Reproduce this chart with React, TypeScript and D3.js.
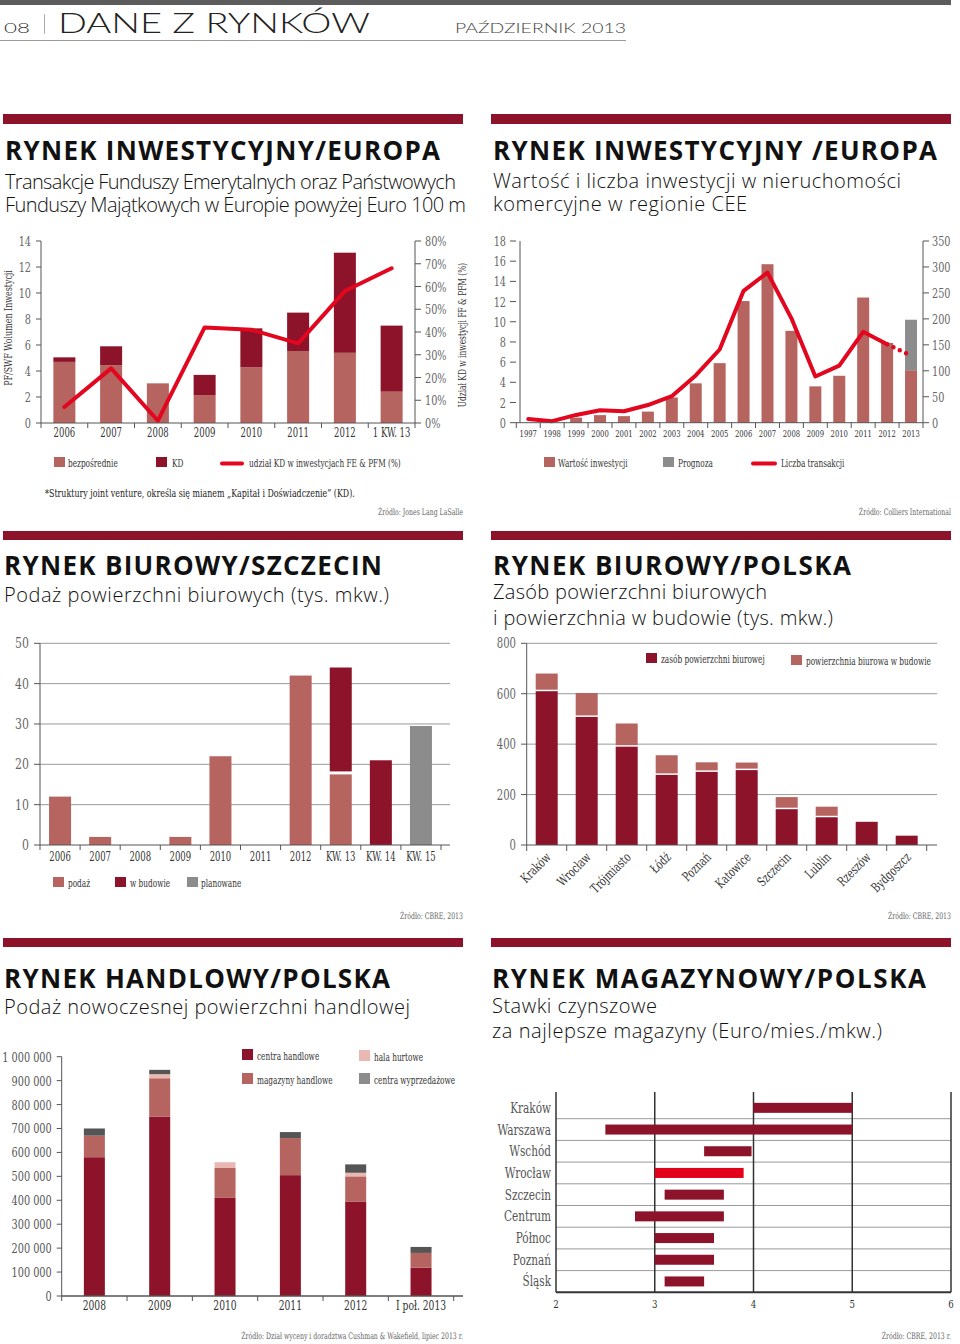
import * as d3 from 'd3';

// Rynek inwestycyjny / Europa – transakcje PF/SWF (mld euro, % KD)
const pfPeriods = ['2006', '2007', '2008', '2009', '2010', '2011', '2012', '1 KW. 13'];
const pfDirect = [4.7, 4.45, 3.05, 2.15, 4.28, 5.54, 5.4, 2.41];
const pfKD = [0.35, 1.45, 0, 1.55, 3.0, 2.95, 7.7, 5.08];
const pfKDShare = [7, 24, 1, 42, 41, 35, 58, 68];

// Rynek inwestycyjny CEE
const ceeYears = ['1997', '1998', '1999', '2000', '2001', '2002', '2003', '2004', '2005', '2006', '2007', '2008', '2009', '2010', '2011', '2012', '2013'];
const ceeValue = [0, 0, 0.5, 0.75, 0.65, 1.1, 2.5, 3.9, 5.9, 12.05, 15.7, 9.1, 3.6, 4.65, 12.4, 7.9, 5.2];
const ceeForecast = [0, 0, 0, 0, 0, 0, 0, 0, 0, 0, 0, 0, 0, 0, 0, 0, 5.0];
const ceeDeals = [7, 3, 15, 24, 22, 34, 51, 91, 141, 254, 289, 201, 89, 110, 175, 151, 129];

// Rynek biurowy / Szczecin
const szcPeriods = ['2006', '2007', '2008', '2009', '2010', '2011', '2012', 'KW. 13', 'KW. 14', 'KW. 15'];
const szcSupply = [12, 2, 0, 2, 22, 0, 42, 17.5, 0, 0];
const szcBuilding = [0, 0, 0, 0, 0, 0, 0, 26.5, 21, 0];
const szcPlanned = [0, 0, 0, 0, 0, 0, 0, 0, 0, 29.5];

// Rynek biurowy / Polska
const cities = ['Kraków', 'Wrocław', 'Trójmiasto', 'Łódź', 'Poznań', 'Katowice', 'Szczecin', 'Lublin', 'Rzeszów', 'Bydgoszcz'];
const officeStock = [610, 508, 390, 278, 290, 297, 142, 110, 92, 37];
const officeBuilding = [70, 95, 92, 78, 38, 30, 48, 42, 0, 0];

// Rynek handlowy / Polska
const retailPeriods = ['2008', '2009', '2010', '2011', '2012', 'I poł. 2013'];
const shoppingCentres = [580000, 750000, 410000, 505000, 395000, 118000];
const retailWarehouses = [90000, 160000, 125000, 155000, 105000, 62000];
const wholesaleHalls = [0, 17000, 24000, 0, 15000, 0];
const outletCentres = [30000, 18000, 0, 25000, 35000, 25000];

// Rynek magazynowy / Polska
const regions = ['Kraków', 'Warszawa', 'Wschód', 'Wrocław', 'Szczecin', 'Centrum', 'Północ', 'Poznań', 'Śląsk'];
const rentMin = [4.0, 2.5, 3.5, 3.0, 3.1, 2.8, 3.0, 3.0, 3.1];
const rentMax = [5.0, 5.0, 3.98, 3.9, 3.7, 3.7, 3.6, 3.6, 3.5];

const CRIMSON = '#8c1329';
const ROSE = '#b6645f';
const RED = '#e3061f';
const GREY = '#8c8c8c';
const PINK = '#e9b8b3';
const DARKGREY = '#555555';
const AXIS = '#555';
const GRID = '#9a9a9a';

const SLAB = "'DejaVu Serif', 'Liberation Serif', serif";
const SANS = "'Open Sans', 'Noto Sans', sans-serif";

const fmtSpace = d3.formatLocale({ decimal: ',', thousands: '\u00a0', grouping: [3], currency: ['', ''] }).format(',d');

// condensed slab text: DejaVu Serif squeezed horizontally
function CT({ x, y, size = 12, anchor = 'start', fill = '#333', sx = 0.72, rotate = 0, children }) {
  return (
    <text transform={`translate(${x},${y}) rotate(${rotate}) scale(${sx},1)`} textAnchor={anchor} fontFamily={SLAB} fontSize={size} fill={fill}>
      {children}
    </text>
  );
}

function Heading({ barX, barY, barH, x, title, titleW, titleY, lines }) {
  return (
    <g>
      <rect x={barX} y={barY} width={460} height={barH} fill={CRIMSON} />
      <text x={x} y={titleY} fontFamily={SANS} fontWeight={700} fontSize={26} fill="#111" textLength={titleW} lengthAdjust="spacing">
        {title}
      </text>
      {lines.map(([t, yy, w]) => (
        <text key={t} x={x} y={yy} fontFamily={SANS} fontWeight={300} fontSize={20} fill="#111" textLength={w} lengthAdjust="spacing">
          {t}
        </text>
      ))}
    </g>
  );
}

function Swatch({ x, y, color, label, tx, w = 11, h = 10 }) {
  return (
    <g>
      <rect x={x} y={y} width={w} height={h} fill={color} />
      <CT x={tx} y={y + h} size={10.5} sx={0.7}>{label}</CT>
    </g>
  );
}

function Source({ x, y, text }) {
  return <CT x={x} y={y} size={9} anchor="end" fill="#666" sx={0.69}>{text}</CT>;
}

function PageHeader() {
  return (
    <g>
      <rect x={0} y={0} width={951} height={5} fill="#5c5c5c" />
      <text x={4} y={33} fontFamily="Lato, sans-serif" fontWeight={300} fontSize={13} fill="#333" textLength={26} lengthAdjust="spacingAndGlyphs">08</text>
      <line x1={44.5} x2={44.5} y1={14} y2={34} stroke="#aaa" />
      <text x={58} y={33} fontFamily="Lato, sans-serif" fontWeight={300} fontSize={27} fill="#222" textLength={312} lengthAdjust="spacingAndGlyphs">DANE Z RYNKÓW</text>
      <text x={455} y={33} fontFamily="Lato, sans-serif" fontWeight={300} fontSize={13} fill="#444" textLength={171} lengthAdjust="spacingAndGlyphs">PAŹDZIERNIK 2013</text>
      <line x1={0} x2={626} y1={40.5} y2={40.5} stroke="#9a9a9a" />
    </g>
  );
}

function PfChart() {
  const x = d3.scaleBand().domain(pfPeriods).range([41, 415]);
  const yL = d3.scaleLinear().domain([0, 14]).range([423, 241]);
  const yR = d3.scaleLinear().domain([0, 80]).range([423, 241]);
  const bw = 22;
  const cx = (d) => x(d) + x.bandwidth() / 2;
  const line = d3.line().x((_, i) => cx(pfPeriods[i])).y((v) => yR(v));
  const bounds = pfPeriods.map((d) => x(d)).concat([415]);
  return (
    <g>
      {pfPeriods.map((d, i) => (
        <g key={d}>
          <rect x={cx(d) - bw / 2} y={yL(pfDirect[i])} width={bw} height={yL(0) - yL(pfDirect[i])} fill={ROSE} />
          <rect x={cx(d) - bw / 2} y={yL(pfDirect[i] + pfKD[i])} width={bw} height={yL(pfDirect[i]) - yL(pfDirect[i] + pfKD[i])} fill={CRIMSON} />
        </g>
      ))}
      <path d={line(pfKDShare)} fill="none" stroke={RED} strokeWidth={4} strokeLinejoin="round" strokeLinecap="round" />
      <line x1={41} x2={41} y1={241} y2={423} stroke={AXIS} />
      <line x1={415} x2={415} y1={241} y2={423} stroke={AXIS} />
      <line x1={41} x2={415} y1={423} y2={423} stroke={AXIS} />
      {yL.ticks(7).map((t) => (
        <g key={t}>
          <line x1={36} x2={41} y1={yL(t)} y2={yL(t)} stroke={AXIS} />
          <CT x={31} y={yL(t) + 5} anchor="end" size={13.5} fill="#666">{t}</CT>
        </g>
      ))}
      {yR.ticks(8).map((t) => (
        <g key={t}>
          <line x1={415} x2={421} y1={yR(t)} y2={yR(t)} stroke={AXIS} />
          <CT x={425} y={yR(t) + 5} size={13.5} fill="#666">{t}%</CT>
        </g>
      ))}
      {bounds.map((b, i) => (
        <line key={i} x1={b} x2={b} y1={423} y2={428} stroke={AXIS} />
      ))}
      {pfPeriods.map((d) => (
        <CT key={d} x={cx(d)} y={437} anchor="middle" size={12.5} sx={0.68}>{d}</CT>
      ))}
      <CT x={12} y={328} rotate={-90} anchor="middle" size={11} sx={0.72}>PF/SWF Wolumen Inwestycji</CT>
      <CT x={466} y={335} rotate={-90} anchor="middle" size={11} sx={0.68}>Udział KD w inwestycji FF &amp; PFM (%)</CT>
      <Swatch x={54} y={457} color={ROSE} label="bezpośrednie" tx={68} />
      <Swatch x={156} y={457} color={CRIMSON} label="KD" tx={172} />
      <line x1={222} x2={242} y1={463.5} y2={463.5} stroke={RED} strokeWidth={4} strokeLinecap="round" />
      <CT x={249} y={467} size={10.5} sx={0.7}>udział KD w inwestycjach FE &amp; PFM (%)</CT>
      <CT x={45} y={497} size={11} sx={0.72} fill="#222">*Struktury joint venture, określa się mianem „Kapitał i Doświadczenie” (KD).</CT>
      <Source x={463} y={515} text="Źródło: Jones Lang LaSalle" />
    </g>
  );
}

function CeeChart() {
  const x = d3.scaleBand().domain(ceeYears).range([516.3, 923]);
  const yL = d3.scaleLinear().domain([0, 18]).range([422.7, 241]);
  const yR = d3.scaleLinear().domain([0, 350]).range([422.7, 241]);
  const bw = 12;
  const cx = (d) => x(d) + x.bandwidth() / 2;
  const line = d3.line().x((d) => cx(d[0])).y((d) => yR(d[1]));
  const pts = ceeYears.map((d, i) => [d, ceeDeals[i]]);
  const n = pts.length;
  const bounds = ceeYears.map((d) => x(d)).concat([923]);
  return (
    <g>
      {ceeYears.map((d, i) => (
        <g key={d}>
          <rect x={cx(d) - bw / 2} y={yL(ceeValue[i])} width={bw} height={yL(0) - yL(ceeValue[i])} fill={ROSE} />
          {ceeForecast[i] > 0 && (
            <rect x={cx(d) - bw / 2} y={yL(ceeValue[i] + ceeForecast[i])} width={bw} height={yL(ceeValue[i]) - yL(ceeValue[i] + ceeForecast[i])} fill={GREY} />
          )}
        </g>
      ))}
      <path d={line(pts.slice(0, n - 1))} fill="none" stroke={RED} strokeWidth={4} strokeLinejoin="round" strokeLinecap="round" />
      <path d={line(pts.slice(n - 2))} fill="none" stroke={RED} strokeWidth={4.5} strokeDasharray="0 7" strokeLinecap="round" />
      <line x1={520} x2={520} y1={241} y2={422.7} stroke={AXIS} />
      <line x1={923} x2={923} y1={241} y2={422.7} stroke={AXIS} />
      <line x1={516} x2={923} y1={422.7} y2={422.7} stroke={AXIS} />
      {yL.ticks(9).map((t) => (
        <g key={t}>
          <line x1={510} x2={516} y1={yL(t)} y2={yL(t)} stroke={AXIS} />
          <CT x={506} y={yL(t) + 5} anchor="end" size={13.5} fill="#666">{t}</CT>
        </g>
      ))}
      {yR.ticks(7).map((t) => (
        <g key={t}>
          <line x1={923} x2={929} y1={yR(t)} y2={yR(t)} stroke={AXIS} />
          <CT x={932} y={yR(t) + 5} size={13.5} fill="#666">{t}</CT>
        </g>
      ))}
      {bounds.map((b, i) => (
        <line key={i} x1={b} x2={b} y1={422.7} y2={428} stroke={AXIS} />
      ))}
      {ceeYears.map((d) => (
        <CT key={d} x={cx(d)} y={437} anchor="middle" size={9.5} sx={0.72}>{d}</CT>
      ))}
      <Swatch x={544} y={457} color={ROSE} label="Wartość inwestycji" tx={558} />
      <Swatch x={663} y={457} color={GREY} label="Prognoza" tx={678} />
      <line x1={753} x2={775} y1={463.5} y2={463.5} stroke={RED} strokeWidth={4} strokeLinecap="round" />
      <CT x={781} y={467} size={10.5} sx={0.7}>Liczba transakcji</CT>
      <Source x={951} y={515} text="Źródło: Colliers International" />
    </g>
  );
}

function SzczecinChart() {
  const x = d3.scaleBand().domain(szcPeriods).range([40, 441]);
  const y = d3.scaleLinear().domain([0, 50]).range([845, 643.3]);
  const bw = 22;
  const gap = 3;
  const cx = (d) => x(d) + x.bandwidth() / 2;
  const bounds = szcPeriods.map((d) => x(d)).concat([441]);
  return (
    <g>
      {y.ticks(5).filter((t) => t > 0).map((t) => (
        <line key={t} x1={40} x2={450} y1={y(t)} y2={y(t)} stroke={GRID} />
      ))}
      {szcPeriods.map((d, i) => {
        const s = szcSupply[i];
        const b = szcBuilding[i];
        const p = szcPlanned[i];
        return (
          <g key={d}>
            {s > 0 && <rect x={cx(d) - bw / 2} y={y(s)} width={bw} height={y(0) - y(s)} fill={ROSE} />}
            {b > 0 && <rect x={cx(d) - bw / 2} y={y(s + b)} width={bw} height={y(s) - y(s + b) - (s > 0 ? gap : 0)} fill={CRIMSON} />}
            {p > 0 && <rect x={cx(d) - bw / 2} y={y(s + b + p)} width={bw} height={y(s + b) - y(s + b + p)} fill={GREY} />}
          </g>
        );
      })}
      <line x1={40} x2={40} y1={643.3} y2={845} stroke={AXIS} />
      <line x1={40} x2={450} y1={845} y2={845} stroke={AXIS} />
      {y.ticks(5).map((t) => (
        <g key={t}>
          <line x1={34} x2={40} y1={y(t)} y2={y(t)} stroke={AXIS} />
          <CT x={29} y={y(t) + 5} anchor="end" size={14} fill="#666" sx={0.78}>{t}</CT>
        </g>
      ))}
      {bounds.map((b, i) => (
        <line key={i} x1={b} x2={b} y1={845} y2={850} stroke={AXIS} />
      ))}
      {szcPeriods.map((d) => (
        <CT key={d} x={cx(d)} y={861} anchor="middle" size={12.5} sx={0.68}>{d}</CT>
      ))}
      <Swatch x={53} y={877} color={ROSE} label="podaż" tx={68} />
      <Swatch x={115} y={877} color={CRIMSON} label="w budowie" tx={130} />
      <Swatch x={187} y={877} color={GREY} label="planowane" tx={201} />
      <Source x={463} y={919} text="Źródło: CBRE, 2013" />
    </g>
  );
}

function OfficePolandChart() {
  const x = d3.scaleBand().domain(cities).range([526.7, 926.7]);
  const y = d3.scaleLinear().domain([0, 800]).range([845, 643.3]);
  const bw = 22;
  const gap = 1.5;
  const cx = (d) => x(d) + x.bandwidth() / 2;
  const bounds = cities.map((d) => x(d)).concat([926.7]);
  return (
    <g>
      {y.ticks(4).filter((t) => t > 0).map((t) => (
        <line key={t} x1={526.7} x2={937} y1={y(t)} y2={y(t)} stroke={GRID} />
      ))}
      {cities.map((d, i) => {
        const s = officeStock[i];
        const b = officeBuilding[i];
        return (
          <g key={d}>
            <rect x={cx(d) - bw / 2} y={y(s)} width={bw} height={y(0) - y(s)} fill={CRIMSON} />
            {b > 0 && <rect x={cx(d) - bw / 2} y={y(s + b)} width={bw} height={y(s) - y(s + b) - gap} fill={ROSE} />}
          </g>
        );
      })}
      <line x1={526.7} x2={526.7} y1={643.3} y2={845} stroke={AXIS} />
      <line x1={526.7} x2={937} y1={845} y2={845} stroke={AXIS} />
      {y.ticks(4).map((t) => (
        <g key={t}>
          <line x1={521} x2={526.7} y1={y(t)} y2={y(t)} stroke={AXIS} />
          <CT x={516} y={y(t) + 5} anchor="end" size={14} fill="#666" sx={0.72}>{t}</CT>
        </g>
      ))}
      {bounds.map((b, i) => (
        <line key={i} x1={b} x2={b} y1={845} y2={851} stroke={AXIS} />
      ))}
      {cities.map((d) => (
        <CT key={d} x={cx(d) + 5} y={858} rotate={-45} anchor="end" size={13} sx={0.72}>{d}</CT>
      ))}
      <Swatch x={646} y={653} color={CRIMSON} label="zasób powierzchni biurowej" tx={661} />
      <Swatch x={791} y={655} color={ROSE} label="powierzchnia biurowa w budowie" tx={806} />
      <Source x={951} y={919} text="Źródło: CBRE, 2013" />
    </g>
  );
}

function RetailChart() {
  const x = d3.scaleBand().domain(retailPeriods).range([61.7, 453.7]);
  const y = d3.scaleLinear().domain([0, 1000000]).range([1296, 1056.7]);
  const bw = 21;
  const cx = (d) => x(d) + x.bandwidth() / 2;
  const series = [
    [shoppingCentres, CRIMSON],
    [retailWarehouses, ROSE],
    [wholesaleHalls, PINK],
    [outletCentres, DARKGREY],
  ];
  const bounds = retailPeriods.map((d) => x(d)).concat([453.7]);
  return (
    <g>
      {retailPeriods.map((d, i) => {
        let base = 0;
        return (
          <g key={d}>
            {series.map(([vals, col], k) => {
              const v = vals[i];
              const y0 = base;
              base += v;
              if (v <= 0) return null;
              return <rect key={k} x={cx(d) - bw / 2} y={y(y0 + v)} width={bw} height={y(y0) - y(y0 + v)} fill={col} />;
            })}
          </g>
        );
      })}
      <line x1={61.7} x2={61.7} y1={1056.7} y2={1296} stroke={AXIS} />
      <line x1={61.7} x2={463} y1={1296} y2={1296} stroke={AXIS} strokeWidth={1.5} />
      {y.ticks(10).map((t) => (
        <g key={t}>
          <line x1={56.7} x2={61.7} y1={y(t)} y2={y(t)} stroke={AXIS} />
          <CT x={51.7} y={y(t) + 5} anchor="end" size={13.5} fill="#555" sx={0.72}>{fmtSpace(t)}</CT>
        </g>
      ))}
      {bounds.map((b, i) => (
        <line key={i} x1={b} x2={b} y1={1296} y2={1301} stroke={AXIS} />
      ))}
      {retailPeriods.map((d) => (
        <CT key={d} x={cx(d)} y={1310} anchor="middle" size={13.5} sx={0.68}>{d}</CT>
      ))}
      <Swatch x={242} y={1049} color={CRIMSON} label="centra handlowe" tx={257} w={11} h={11} />
      <Swatch x={359} y={1050} color={PINK} label="hala hurtowe" tx={374} w={11} h={11} />
      <Swatch x={242} y={1073} color={ROSE} label="magazyny handlowe" tx={257} w={11} h={11} />
      <Swatch x={359} y={1073} color={GREY} label="centra wyprzedażowe" tx={374} w={11} h={11} />
      <Source x={463} y={1339} text="Źródło: Dział wyceny i doradztwa Cushman & Wakefield, lipiec 2013 r." />
    </g>
  );
}

function WarehouseChart() {
  const x = d3.scaleLinear().domain([2, 6]).range([556, 951]);
  const y = d3.scaleBand().domain(regions).range([1097, 1292.3]);
  const bh = 10;
  const cy = (d) => y(d) + y.bandwidth() / 2;
  return (
    <g>
      {regions.slice(1).map((d) => (
        <line key={d} x1={556} x2={951} y1={y(d)} y2={y(d)} stroke={GRID} />
      ))}
      {x.ticks(4).map((t) => (
        <line key={t} x1={x(t)} x2={x(t)} y1={1092} y2={1292.3} stroke="#333" strokeWidth={1.5} />
      ))}
      {regions.map((d, i) => (
        <rect key={d} x={x(rentMin[i])} y={cy(d) - bh / 2} width={x(rentMax[i]) - x(rentMin[i])} height={bh} fill={d === 'Wrocław' ? '#e2001a' : CRIMSON} />
      ))}
      <line x1={556} x2={951} y1={1292.3} y2={1292.3} stroke="#333" strokeWidth={2} />
      {x.ticks(4).map((t) => (
        <CT key={t} x={x(t)} y={1308} anchor="middle" size={11.5} sx={0.75}>{t}</CT>
      ))}
      {regions.map((d) => (
        <CT key={d} x={551} y={cy(d) + 5} anchor="end" size={14} fill="#555" sx={0.75}>{d}</CT>
      ))}
      <Source x={951} y={1339} text="Źródło: CBRE, 2013 r." />
    </g>
  );
}

export default function App() {
  return (
    <svg width={960} height={1344} style={{ position: 'absolute', left: 0, top: 0, background: '#fff' }}>
      <rect width={960} height={1344} fill="#fff" />
      <PageHeader />
      <Heading barX={3} barY={114} barH={10} x={5} title="RYNEK INWESTYCYJNY/EUROPA" titleW={435} titleY={160}
        lines={[['Transakcje Funduszy Emerytalnych oraz Państwowych', 189, 451], ['Funduszy Majątkowych w Europie powyżej Euro 100 m', 212, 461]]} />
      <Heading barX={491} barY={114} barH={10} x={493} title="RYNEK INWESTYCYJNY /EUROPA" titleW={444} titleY={160}
        lines={[['Wartość i liczba inwestycji w nieruchomości', 188, 408], ['komercyjne w regionie CEE', 211, 254]]} />
      <Heading barX={3} barY={531} barH={9} x={4} title="RYNEK BIUROWY/SZCZECIN" titleW={378} titleY={575}
        lines={[['Podaż powierzchni biurowych (tys. mkw.)', 602, 385]]} />
      <Heading barX={491} barY={531} barH={9} x={493} title="RYNEK BIUROWY/POLSKA" titleW={358} titleY={575}
        lines={[['Zasób powierzchni biurowych', 599, 274], ['i powierzchnia w budowie (tys. mkw.)', 625, 340]]} />
      <Heading barX={3} barY={938} barH={9} x={4} title="RYNEK HANDLOWY/POLSKA" titleW={386} titleY={988}
        lines={[['Podaż nowoczesnej powierzchni handlowej', 1014, 406]]} />
      <Heading barX={491} barY={938} barH={9} x={492} title="RYNEK MAGAZYNOWY/POLSKA" titleW={434} titleY={988}
        lines={[['Stawki czynszowe', 1013, 165], ['za najlepsze magazyny (Euro/mies./mkw.)', 1038, 390]]} />
      <PfChart />
      <CeeChart />
      <SzczecinChart />
      <OfficePolandChart />
      <RetailChart />
      <WarehouseChart />
    </svg>
  );
}
